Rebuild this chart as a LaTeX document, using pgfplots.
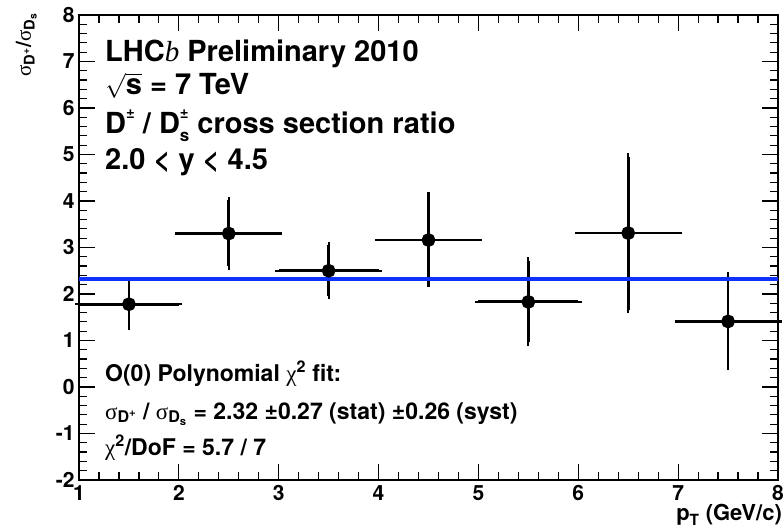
\documentclass[border=0pt]{standalone}
\usepackage{fontspec}
\setmainfont{TeX Gyre Heros}
\newfontfamily\grk{Liberation Serif}
\usepackage{pgfplots}
\pgfplotsset{compat=1.18}
\definecolor{rootblue}{RGB}{15,50,250}
\pgfplotstableread{
x   ex   y     eyp   eym
1.5 0.5  1.78  0.46  0.47
2.5 0.5  3.30  0.72  0.70
3.5 0.5  2.50  0.55  0.54
4.5 0.5  3.16  0.95  0.94
5.5 0.5  1.83  0.88  0.87
6.5 0.5  3.31  1.64  1.65
7.5 0.5  1.41  0.98  0.97
}\ratiodata
\newcommand{\sig}{{\grk\mdseries σ}}
\newcommand{\chis}{{\grk\mdseries χ}}
\begin{document}
\begin{tikzpicture}
\begin{axis}[
  name=ax,
  at={(0,0)}, anchor=south west,
  scale only axis,
  width=699pt, height=465pt,
  xmin=1, xmax=8, ymin=-2, ymax=8,
  xtick={1,2,...,8}, ytick={-2,-1,...,8},
  xticklabels={1,2,3,4,5,6,7,8},
  yticklabels={-2,-1,0,1,2,3,4,5,6,7,8},
  minor tick num=4,
  tick align=inside,
  major tick length=16pt, minor tick length=8pt,
  axis line style={line width=2.4pt},
  every tick/.style={black, line width=1.2pt},
  ticklabel style={font=\fontsize{21}{21}\selectfont\bfseries},
  xticklabel style={yshift=-2pt},
  yticklabel style={xshift=-1pt},
  clip=false,
]
\addplot[black, line width=2.8pt, only marks, mark=*, mark size=5.5pt,
  error bars/.cd,
    x dir=both, x explicit,
    y dir=both, y explicit,
    error bar style={line width=2.8pt, black},
    error mark options={line width=2.2pt, mark size=3.5pt, black}]
  table[x=x, y=y, x error=ex, y error plus=eyp, y error minus=eym] {\ratiodata};
\addplot[rootblue, line width=3.6pt] coordinates {(1,2.32) (8,2.32)};

\node[anchor=base west, font=\fontsize{29}{29}\selectfont\bfseries, inner sep=0pt]
  at (axis cs:1.26,6.99) {LHC{\grk\itshape\mdseries b} Preliminary 2010};
\node[anchor=base west, font=\fontsize{29}{29}\selectfont\bfseries, inner sep=0pt]
  at (axis cs:1.26,6.28) {$\sqrt{\textbf{s}}$ = 7 TeV};
\node[anchor=base west, font=\fontsize{29}{29}\selectfont\bfseries, inner sep=0pt]
  at (axis cs:1.26,5.46) {D\raisebox{0.5em}{\fontsize{15}{15}\selectfont ±} / D\rlap{\raisebox{0.5em}{\fontsize{15}{15}\selectfont ±}}\raisebox{-0.28em}{\fontsize{17}{17}\selectfont s} cross section ratio};
\node[anchor=base west, font=\fontsize{29}{29}\selectfont\bfseries, inner sep=0pt]
  at (axis cs:1.26,4.67) {2.0 < y < 4.5};

\node[anchor=base west, font=\fontsize{23}{23}\selectfont\bfseries, inner sep=0pt]
  at (axis cs:1.26,0.11) {O(0) Polynomial \chis\textsuperscript{2} fit:};
\node[anchor=base west, font=\fontsize{23}{23}\selectfont\bfseries, inner sep=0pt]
  at (axis cs:1.26,-0.69) {\sig\textsubscript{D\textsuperscript{+}} / \sig\textsubscript{D\textsubscript{s}} = 2.32 ±0.27 (stat) ±0.26 (syst)};
\node[anchor=base west, font=\fontsize{23}{23}\selectfont\bfseries, inner sep=0pt]
  at (axis cs:1.26,-1.48) {\chis\textsuperscript{2}/DoF = 5.7 / 7};
\end{axis}
\node[rotate=90, anchor=south east, inner sep=0pt, font=\fontsize{21}{21}\selectfont\bfseries]
  at ([xshift=-42pt,yshift=2pt]ax.north west)
  {\sig\textsubscript{D\textsuperscript{+}}/\sig\textsubscript{D\textsubscript{s}}};
\node[anchor=base east, inner sep=0pt, font=\fontsize{22}{22}\selectfont\bfseries]
  at ([xshift=4pt,yshift=-41pt]ax.south east) {p\textsubscript{T} (GeV/c)};
\pgfresetboundingbox
\path[use as bounding box] ([xshift=-79pt,yshift=-48pt]ax.south west) rectangle ([xshift=6pt,yshift=15pt]ax.north east);
\end{tikzpicture}
\end{document}
